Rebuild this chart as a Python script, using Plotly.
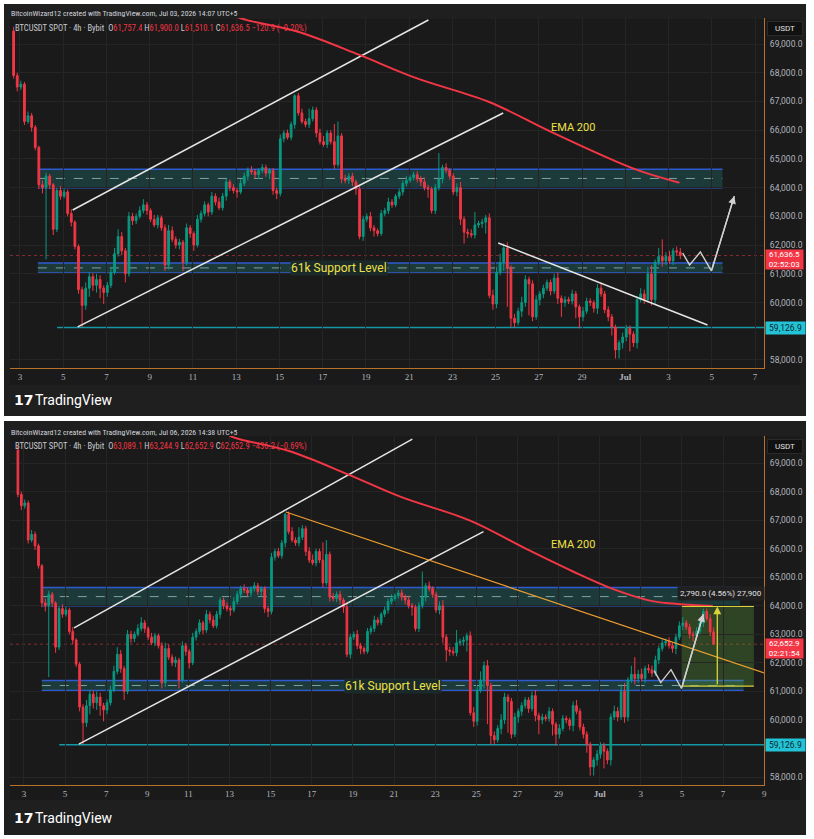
import plotly.graph_objects as go
import pandas as pd

W, H = 814, 839
BASE = pd.Timestamp("2026-06-03 00:00")


def T(d):
    return BASE + pd.Timedelta(days=d)


def px(x):
    return x / W


def py(y):
    return 1 - y / H


# ---------------- DATA ----------------
first_open = 69450
closes = [
    # Jun 2 17:00 ->
    67900, 67500, 67600, 66300, 66500, 66100, 65400, 64100, 64000, 64400,
    64100, 62550, 63900, 63700, 63850, 63100, 62800, 61950, 60450, 59900,
    60500, 60900, 60600, 60800, 60500, 60350, 60600, 61050, 61700, 62300,
    61800, 61000, 63000, 62850, 63000, 63200, 63400, 63200, 62900, 62700,
    62950, 62600, 61300, 62500, 62200, 62000, 62100, 61400, 62600, 62400,
    62000, 62900, 63100, 63400, 63150, 63700, 63500, 63300, 63700, 64200,
    64000, 63900, 63850, 64150, 64400, 64600, 64550, 64450, 64600, 64700,
    64500, 64600,
    63900, 63800, 65700, 65900, 65750, 66200, 67200, 66600, 66300, 66200,
    66400, 66700, 65900, 65600, 65500, 65900, 65600, 64800, 65800, 64300,
    64250, 64400, 64200, 63950, 62300, 62900, 63000, 62600, 62500, 62400,
    63100, 63200, 63500, 63400, 63700, 63850, 64150, 64250, 64350, 64450,
    64300, 64200, 64000, 63950, 63200, 64000, 64300, 64700, 64600, 64400,
    63850, 64000, 62900, 62450, 62400, 62350, 62700, 62750, 62800, 62950,
    60250, 59950, 61050, 61400, 61900, 61200, 59450, 59300, 59700, 60000,
    60800, 60650, 59500, 60100, 60300, 60500, 60700,
    60400, 60850, 60150, 60000, 60100, 60050, 60300, 59850, 59500, 59700,
    60050, 60000, 59800, 60500, 60300, 59750, 59500, 59150, 58350, 58600,
    58800, 59100, 58900, 58600, 60100, 60300, 60100, 61000, 60100, 61400,
    61600, 61450, 61600, 61450, 61800, 61757.4, 61636.5,
    # after Jul 3 13:00 (second chart only)
    62100, 62500, 62700, 62750, 62600, 62500, 62900, 63300, 63400, 63250,
    63000, 62950, 63100, 63400, 63800, 63550, 63089.1, 62652.9,
]
up_wick = [
    150, 100, 120, 80, 150, 100, 80, 60, 150, 120,
    80, 60, 100, 150, 120, 80, 150, 60, 80, 100,
    200, 150, 120, 200, 150, 100, 120, 150, 200, 250,
    150, 100, 150, 120, 100, 150, 200, 100, 80, 150,
    100, 80, 120, 200, 150, 100, 120, 80, 150, 100,
    80, 150, 100, 120, 80, 150, 100, 150, 120, 100,
    80, 120, 100, 150, 120, 100, 150, 100, 80, 120,
    100, 80,
    80, 100, 150, 100, 120, 100, 50, 100, 150, 100,
    350, 120, 100, 150, 200, 100, 100, 620, 500, 100,
    150, 100, 120, 80, 150, 120, 100, 150, 100, 80,
    120, 100, 150, 100, 80, 120, 100, 150, 80, 100,
    120, 100, 150, 100, 80, 120, 900, 100, 150, 80,
    100, 150, 200, 100, 120, 150, 450, 100, 120, 100,
    150, 200, 150, 300, 150, 200, 100, 150, 120, 200,
    150, 100, 120, 150, 100, 120, 100,
    100, 150, 200, 100, 120, 100, 150, 100, 80, 150,
    120, 100, 80, 150, 200, 100, 120, 100, 80, 100,
    150, 120, 100, 100, 120, 200, 150, 250, 300, 100,
    300, 600, 150, 200, 100, 150, 142.6,
    150, 100, 120, 100, 150, 100, 120, 150, 200, 100,
    120, 100, 150, 150, 100, 100, 150, 155.8,
]
dn_wick = [
    100, 150, 100, 120, 80, 150, 100, 150, 200, 2500,
    150, 200, 100, 120, 80, 100, 150, 100, 150, 750,
    150, 300, 200, 250, 350, 400, 150, 100, 80, 100,
    150, 300, 100, 150, 120, 80, 100, 150, 100, 80,
    120, 100, 200, 150, 100, 120, 150, 300, 100, 150,
    200, 80, 120, 100, 150, 100, 120, 80, 100, 150,
    120, 100, 200, 80, 100, 150, 100, 120, 150, 100,
    120, 200,
    150, 200, 100, 120, 80, 100, 150, 100, 80, 100,
    120, 100, 150, 100, 80, 120, 100, 150, 100, 150,
    100, 120, 150, 200, 100, 150, 100, 120, 200, 100,
    80, 100, 120, 100, 80, 100, 120, 100, 80, 100,
    120, 150, 100, 300, 100, 120, 100, 150, 100, 120,
    100, 150, 200, 400, 150, 100, 120, 100, 150, 400,
    100, 200, 150, 100, 300, 1350, 300, 150, 100, 200,
    150, 1100, 150, 100, 200, 150, 100,
    150, 100, 200, 500, 150, 100, 120, 400, 400, 150,
    100, 120, 150, 200, 100, 120, 150, 300, 300, 300,
    200, 150, 600, 150, 200, 100, 150, 100, 200, 150,
    100, 200, 150, 100, 150, 120, 126.4,
    100, 150, 100, 120, 100, 150, 200, 100, 150, 100,
    150, 200, 100, 100, 150, 100, 150, 0,
]
N_TOP = 186  # candles visible in the Jul 03 chart

# EMA 200 (days after Jun 3 00:00, value)
ema_days = [10.0, 10.5, 12.9, 15.7, 18.3, 21.7, 24.4, 26.7, 28.6, 30.5, 31.8, 33.5]
ema_vals = [69950, 69830, 69420, 68620, 67820, 66980, 66000, 65200, 64600, 64170, 64060, 63990]

# drawings (days after Jun 3, price)
chan_upper = [(2.44, 63222), (18.89, 69835)]
chan_lower = [(2.67, 59150), (22.35, 66598)]
down_line_top = [(22.12, 62074), (31.8, 59219)]
orange_line = [(12.74, 67284), (36.0, 61644)]
zigzag_days = [30.65, 30.97, 31.47, 31.98, 33.04]
zigzag_vals = [61725, 61308, 61760, 61100, 63709]
upper_zone = (64000, 64640)
lower_zone = (61030, 61380)
support_line = 59126.9
top_last_price, top_countdown = 61636.5, "02:52:03"
bot_last_price, bot_countdown = 62652.9, "02:21:54"
pos_box = (32.0, 35.5, 61184, 63974)
pos_arrow_day = 33.72
pos_label = "2,790.0 (4.56%) 27,900"

price_ticks = [58000, 60000, 61000, 62000, 63000, 64000, 65000, 66000, 67000, 68000, 69000]
top_tick_days = [0, 2, 4, 6, 8, 10, 12, 14, 16, 18, 20, 22, 24, 26, 28, 30, 32, 34]
top_tick_text = ["3", "5", "7", "9", "11", "13", "15", "17", "19", "21", "23", "25", "27", "29", "<b>Jul</b>", "3", "5", "7"]
bot_tick_days = top_tick_days + [36]
bot_tick_text = top_tick_text + ["9"]

# ---------------- BUILD ----------------
times = pd.date_range("2026-06-02 17:00", periods=len(closes), freq="4h")
opens = [first_open] + closes[:-1]
highs = [max(o, c) + u for o, c, u in zip(opens, closes, up_wick)]
lows = [min(o, c) - d for o, c, d in zip(opens, closes, dn_wick)]

GREEN, RED = "#089981", "#f23645"
ORANGE_AX = "#b9712a"
GRID = "#252525"
TXT = "#b2b5be"
YEL = "#efe046"
FONT = "Roboto"
NARROW = "Liberation Sans Narrow, Roboto Condensed, Roboto, sans-serif"

fig = go.Figure()

panels = [
    dict(xa="x", ya="y", n=N_TOP, xr=(-0.461, 34.42), yr=(57721, 69905),
         ydom=(py(368), py(18)), ticks=(top_tick_days, top_tick_text)),
    dict(xa="x2", ya="y2", n=len(closes), xr=(-0.678, 36.0), yr=(57720, 69946),
         ydom=(py(785), py(436)), ticks=(bot_tick_days, bot_tick_text)),
]

for p in panels:
    n = p["n"]
    fig.add_trace(go.Candlestick(
        x=times[:n], open=opens[:n], high=highs[:n], low=lows[:n], close=closes[:n],
        increasing=dict(line=dict(color=GREEN, width=1), fillcolor=GREEN),
        decreasing=dict(line=dict(color=RED, width=1), fillcolor=RED),
        xaxis=p["xa"], yaxis=p["ya"], showlegend=False, hoverinfo="skip"))

# channel lines
for p in panels:
    for ln in (chan_upper, chan_lower):
        fig.add_trace(go.Scatter(x=[T(d) for d, _ in ln], y=[v for _, v in ln], mode="lines",
                                 line=dict(color="#e6e6e6", width=1.5), xaxis=p["xa"], yaxis=p["ya"],
                                 showlegend=False, hoverinfo="skip"))
    fig.add_trace(go.Scatter(x=[T(d) for d in zigzag_days], y=zigzag_vals, mode="lines",
                             line=dict(color="#d0d0d0", width=1.4), xaxis=p["xa"], yaxis=p["ya"],
                             showlegend=False, hoverinfo="skip"))

# top descending line
fig.add_trace(go.Scatter(x=[T(d) for d, _ in down_line_top], y=[v for _, v in down_line_top], mode="lines",
                         line=dict(color="#e6e6e6", width=1.5), xaxis="x", yaxis="y",
                         showlegend=False, hoverinfo="skip"))
# orange trendline (bottom)
fig.add_trace(go.Scatter(x=[T(d) for d, _ in orange_line], y=[v for _, v in orange_line], mode="lines",
                         line=dict(color="#f0a030", width=1.2), xaxis="x2", yaxis="y2",
                         showlegend=False, hoverinfo="skip"))

# EMA
top_ema = [(d, v) for d, v in zip(ema_days, ema_vals) if d <= 30.55]
fig.add_trace(go.Scatter(x=[T(d) for d, _ in top_ema], y=[v for _, v in top_ema], mode="lines",
                         line=dict(color=RED, width=2, shape="spline"), xaxis="x", yaxis="y",
                         showlegend=False, hoverinfo="skip"))
fig.add_trace(go.Scatter(x=[T(d) for d in ema_days], y=ema_vals, mode="lines",
                         line=dict(color=RED, width=2, shape="spline"), xaxis="x2", yaxis="y2",
                         showlegend=False, hoverinfo="skip"))

shapes = []
annotations = []

# panel backgrounds
for (y0, y1, cy0, cy1) in [(4, 416, 19, 385), (421, 835, 436, 800)]:
    shapes.append(dict(type="rect", xref="paper", yref="paper", x0=px(4), x1=px(809), y0=py(y1), y1=py(y0),
                       fillcolor="#1f1f1f", line=dict(width=0), layer="below"))
    shapes.append(dict(type="rect", xref="paper", yref="paper", x0=px(10), x1=px(803), y0=py(cy1), y1=py(cy0),
                       fillcolor="#1a1a1a", line=dict(width=0), layer="below"))

zone_ext = [(0.83, 32.49, 0.83, 32.49), (0.87, 34.83, 0.87, 35.0)]
for p, (ux0, ux1, lx0, lx1) in zip(panels, zone_ext):
    xa, ya = p["xa"], p["ya"]
    for (z0, z1, a, b) in [(upper_zone[0], upper_zone[1], ux0, ux1), (lower_zone[0], lower_zone[1], lx0, lx1)]:
        shapes.append(dict(type="rect", xref=xa, yref=ya, x0=T(a), x1=T(b), y0=z0, y1=z1,
                           fillcolor="rgba(38,120,120,0.35)", line=dict(width=0), layer="below"))
        for yy in (z0, z1):
            shapes.append(dict(type="line", xref=xa, yref=ya, x0=T(a), x1=T(b), y0=yy, y1=yy,
                               line=dict(color="#2f5bd0", width=1.5), layer="below"))
        shapes.append(dict(type="line", xref=xa, yref=ya, x0=T(a), x1=T(b), y0=(z0 + z1) / 2, y1=(z0 + z1) / 2,
                           line=dict(color="#7fa3a3", width=1, dash="dash"), layer="below"))
    # support line
    shapes.append(dict(type="line", xref=xa, yref=ya, x0=T(1.72), x1=T(p["xr"][1]), y0=support_line, y1=support_line,
                       line=dict(color="#1598a5", width=1.5), layer="below"))

# current price dotted lines
shapes.append(dict(type="line", xref="x", yref="y", x0=T(-0.461), x1=T(34.42), y0=top_last_price, y1=top_last_price,
                   line=dict(color="#8a2a30", width=1, dash="dot"), layer="below"))
shapes.append(dict(type="line", xref="x2", yref="y2", x0=T(-0.678), x1=T(36.0), y0=bot_last_price, y1=bot_last_price,
                   line=dict(color="#8a2a30", width=1, dash="dot"), layer="below"))

# position box (bottom)
bx0, bx1, by0, by1 = pos_box
shapes.append(dict(type="rect", xref="x2", yref="y2", x0=T(bx0), x1=T(bx1), y0=by0, y1=by1,
                   fillcolor="rgba(90,160,60,0.32)", line=dict(width=0), layer="below"))
for yy in (by0, by1):
    shapes.append(dict(type="line", xref="x2", yref="y2", x0=T(bx0), x1=T(bx1), y0=yy, y1=yy,
                       line=dict(color="#d9d23a", width=1.2)))
annotations.append(dict(xref="x2", yref="y2", axref="x2", ayref="y2", x=T(pos_arrow_day), y=by1,
                        ax=T(pos_arrow_day), ay=by0, text="", showarrow=True, arrowhead=2, arrowsize=1.2,
                        arrowwidth=1.3, arrowcolor="#d9d23a"))
annotations.append(dict(xref="x2", yref="y2", x=T(pos_arrow_day), y=by1, yshift=13, xshift=4, text=pos_label,
                        xanchor="center", yanchor="middle",
                        showarrow=False, font=dict(family=FONT, size=8, color="#e0e0e0"),
                        bgcolor="#202020", borderpad=2))

# zigzag arrowheads
for xa, ya in (("x", "y"), ("x2", "y2")):
    annotations.append(dict(xref=xa, yref=ya, axref=xa, ayref=ya, x=T(zigzag_days[-1]), y=zigzag_vals[-1],
                            ax=T(zigzag_days[-2]), ay=zigzag_vals[-2], text="", showarrow=True,
                            arrowhead=2, arrowsize=1.1, arrowwidth=1.4, arrowcolor="#d0d0d0"))

# labels on chart
annotations += [
    dict(xref="x", yref="y", x=T(25.58), y=66076, text="EMA 200", showarrow=False,
         font=dict(family=FONT, size=11, color=YEL)),
    dict(xref="x2", yref="y2", x=T(26.7), y=66128, text="EMA 200", showarrow=False,
         font=dict(family=FONT, size=11, color=YEL)),
    dict(xref="x", yref="y", x=T(14.75), y=sum(lower_zone) / 2, text="61k Support Level", showarrow=False,
         font=dict(family=FONT, size=12, color=YEL), bgcolor="#1a2a2b", borderpad=0),
    dict(xref="x2", yref="y2", x=T(17.97), y=sum(lower_zone) / 2, text="61k Support Level", showarrow=False,
         font=dict(family=FONT, size=12, color=YEL), bgcolor="#1a2a2b", borderpad=0),
]

# headers
headers = [
    (14, 29, "BitcoinWizard12 created with TradingView.com, Jul 03, 2026 14:07 UTC+5",
     ("61,757.4", "61,900.0", "61,510.1", "61,636.5", "\u2212120.9 (\u22120.20%)")),
    (432, 446, "BitcoinWizard12 created with TradingView.com, Jul 06, 2026 14:38 UTC+5",
     ("63,089.1", "63,244.9", "62,652.9", "62,652.9", "\u2212436.2 (\u22120.69%)")),
]
for ty, oy, title, (o, h, l, c, ch) in headers:
    annotations.append(dict(xref="paper", yref="paper", x=px(9), y=py(ty), xanchor="left", yanchor="middle",
                            text=title, showarrow=False, font=dict(family=NARROW, size=7.8, color="#d1d4dc")))
    r = lambda s: f'<span style="color:{RED}">{s}</span>'
    txt = (f"BTCUSDT SPOT \u00b7 4h \u00b7 Bybit  O{r(o)} H{r(h)} L{r(l)} C{r(c)} {r(ch)}")
    annotations.append(dict(xref="paper", yref="paper", x=px(13), y=py(oy), xanchor="left", yanchor="middle",
                            text=txt, showarrow=False, font=dict(family=NARROW, size=8.5, color="#c8cad0")))

# right axis labels
for (ya, usdt_y, lp, cd) in (("y", 29, top_last_price, top_countdown), ("y2", 446, bot_last_price, bot_countdown)):
    annotations.append(dict(xref="paper", yref="paper", x=px(788), y=py(usdt_y), xanchor="center",
                            yanchor="middle", text="USDT", showarrow=False,
                            font=dict(family=FONT, size=8, color="#e0e0e0"), bgcolor="#111111",
                            bordercolor="#2a2a2a", borderpad=2, width=30))
    annotations.append(dict(xref="paper", yref=ya, x=px(768), y=lp, xanchor="left", yanchor="middle", yshift=-4,
                            text=f"{lp:,.1f}<br>{cd}", showarrow=False, align="center", width=37,
                            font=dict(family=FONT, size=8, color="white"), bgcolor=RED, borderpad=0))
    annotations.append(dict(xref="paper", yref=ya, x=px(768), y=support_line, xanchor="left", yanchor="middle",
                            text=f"{support_line:,.1f}", showarrow=False, width=37,
                            font=dict(family=FONT, size=8.5, color="#10262a"), bgcolor="#22c3d6", borderpad=1))

# TradingView logos
for ly in (400, 818):
    annotations.append(dict(xref="paper", yref="paper", x=px(12), y=py(ly), xanchor="left", yanchor="middle",
                            text="<b>17</b>", showarrow=False,
                            font=dict(family="DejaVu Sans", size=14, color="white")))
    annotations.append(dict(xref="paper", yref="paper", x=px(33), y=py(ly), xanchor="left", yanchor="middle",
                            text="TradingView", showarrow=False,
                            font=dict(family=FONT, size=14, color="white")))

axis_common = dict(showgrid=True, gridcolor=GRID, gridwidth=1, zeroline=False, showline=True,
                   linecolor=ORANGE_AX, linewidth=1, ticks="", fixedrange=True)

layout = dict(
    width=W, height=H, margin=dict(l=0, r=0, t=0, b=0),
    paper_bgcolor="white", plot_bgcolor="#1a1a1a",
    shapes=shapes, annotations=annotations, showlegend=False,
    font=dict(family=FONT, color=TXT),
)
for i, p in enumerate(panels):
    sfx = "" if i == 0 else "2"
    layout["xaxis" + sfx] = dict(
        axis_common, type="date", domain=[px(10), px(767)], anchor="y" + sfx,
        range=[T(p["xr"][0]), T(p["xr"][1])],
        tickvals=[T(d) for d in p["ticks"][0]], ticktext=p["ticks"][1],
        tickfont=dict(family="Liberation Sans Narrow", size=9, color=TXT),
        rangeslider=dict(visible=False))
    layout["yaxis" + sfx] = dict(
        axis_common, domain=list(p["ydom"]), anchor="x" + sfx, side="right",
        range=list(p["yr"]), tickvals=price_ticks, ticktext=[f"{v:,.1f}" for v in price_ticks],
        tickfont=dict(family=FONT, size=8.5, color=TXT), ticklabelstandoff=3)

fig.update_layout(**layout)
fig.write_html("out.html")
